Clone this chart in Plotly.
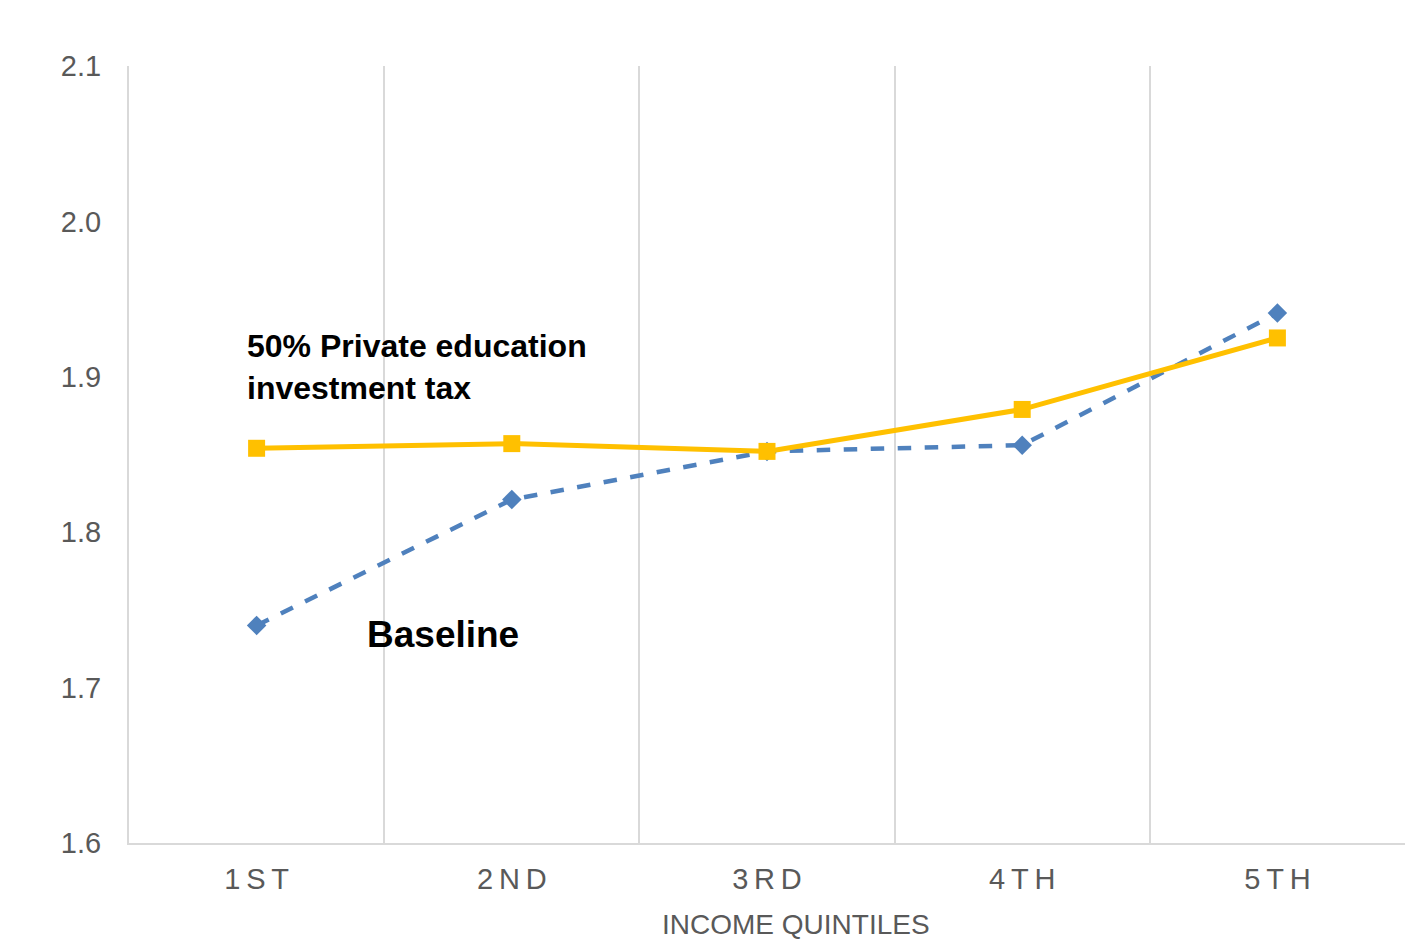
import plotly.graph_objects as go

categories = ["1ST", "2ND", "3RD", "4TH", "5TH"]
tax_values = [1.854, 1.857, 1.852, 1.879, 1.925]
baseline_values = [1.740, 1.821, 1.852, 1.856, 1.941]
y_ticks = [1.6, 1.7, 1.8, 1.9, 2.0, 2.1]

xs = list(range(len(categories)))
tick_text = ["\u2009".join(c) for c in categories]

fig = go.Figure()
fig.add_trace(go.Scatter(
    x=xs, y=baseline_values, mode="lines+markers", name="Baseline",
    line=dict(color="#4F81BD", width=4.5, dash="dash"),
    marker=dict(symbol="diamond", size=15, color="#4F81BD"),
))
fig.add_trace(go.Scatter(
    x=xs, y=tax_values, mode="lines+markers", name="50% Private education investment tax",
    line=dict(color="#FFC000", width=5),
    marker=dict(symbol="square", size=17, color="#FFC000"),
))

font_fam = "Liberation Sans, Arial, sans-serif"

fig.update_layout(
    width=1408, height=941,
    margin=dict(l=129, r=3, t=66, b=98),
    paper_bgcolor="white", plot_bgcolor="white",
    showlegend=False,
    xaxis=dict(
        range=[-0.5, 4.5], tickvals=xs, ticktext=tick_text,
        showgrid=False, zeroline=False,
        showline=True, linecolor="#d9d9d9", linewidth=2,
        ticks="", ticklen=0, ticklabelstandoff=9,
        tickfont=dict(family=font_fam, size=29, color="#595959"),
        minor=dict(tickvals=[-0.5, 0.5, 1.5, 2.5, 3.5, 4.5], showgrid=True,
                   gridcolor="#d9d9d9", gridwidth=2, ticks=""),
    ),
    yaxis=dict(
        range=[1.6, 2.1], tickvals=y_ticks, tickformat=".1f",
        showgrid=False, zeroline=False,
        showline=True, linecolor="#d9d9d9", linewidth=2,
        ticks="", ticklabelstandoff=20,
        tickfont=dict(family=font_fam, size=29, color="#595959"),
    ),
    annotations=[
        dict(text="<b>50% Private education<br>investment tax</b>",
             x=-0.0455, y=1.906, xref="x", yref="y", xanchor="left", yanchor="middle",
             align="left", showarrow=False,
             font=dict(family=font_fam, size=32, color="black")),
        dict(text="<b>Baseline</b>",
             x=0.73, y=1.734, xref="x", yref="y", xanchor="center", yanchor="middle",
             showarrow=False,
             font=dict(family=font_fam, size=37, color="black")),
        dict(text="INCOME QUINTILES",
             x=0.523, y=-0.126, xref="paper", yref="paper", xanchor="center", yanchor="bottom",
             showarrow=False, borderpad=0,
             font=dict(family=font_fam, size=28, color="#595959")),
    ],
)

fig.write_html("out.html")
